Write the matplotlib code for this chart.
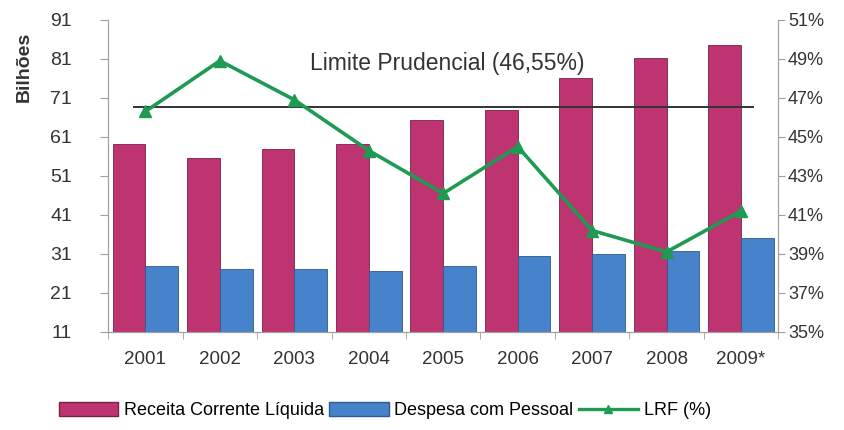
import numpy as np
import matplotlib.pyplot as plt
from matplotlib.lines import Line2D
from matplotlib.patches import Patch

plt.rcParams['font.family'] = ['Liberation Sans', 'DejaVu Sans']

# Dados (R$ bilhões e % da RCL)
anos = ['2001', '2002', '2003', '2004', '2005', '2006', '2007', '2008', '2009*']
receita = [59.2, 55.6, 57.9, 59.2, 65.4, 68.0, 76.1, 81.3, 84.6]
despesa = [27.8, 27.2, 27.2, 26.6, 27.8, 30.5, 31.0, 31.8, 35.0]
lrf = [46.3, 48.9, 46.9, 44.3, 42.1, 44.5, 40.2, 39.1, 41.2]
limite = 46.55

cor_receita = '#BE3470'
cor_despesa = '#4683CA'
cor_lrf = '#1E9A52'
cor_eixo = '#A0A0A0'

fig = plt.figure(figsize=(8.45, 4.3), dpi=100)
ax = fig.add_axes([0.128, 0.228, 0.793, 0.726])
ax2 = ax.twinx()

x = np.arange(len(anos))
w = 0.44
ax.bar(x - w / 2, receita, w, color=cor_receita, edgecolor='#7A2048', linewidth=0.6)
ax.bar(x + w / 2, despesa, w, color=cor_despesa, edgecolor='#2E5A8A', linewidth=0.6)

ax2.plot(x, lrf, color=cor_lrf, linewidth=2.6, marker='^', markersize=8, zorder=5)
ax2.hlines(limite, -0.16, 8.17, color='#333333', linewidth=1.4, zorder=4)
ax2.text(4.05, 48.75, 'Limite Prudencial (46,55%)', ha='center', va='center',
         fontsize=16.5, color='#333333')

ax.set_xlim(-0.5, len(anos) - 0.5)
ax.set_ylim(11, 91)
ax.set_yticks(np.arange(11, 92, 10))
ax2.set_ylim(35, 51)
ax2.set_yticks(np.arange(35, 52, 2))
ax2.set_yticklabels([f'{v}%' for v in range(35, 52, 2)])

ax.set_xticks(x)
ax.set_xticklabels(anos)
ax.set_xticks(np.arange(-0.5, len(anos), 1), minor=True)
ax.tick_params(axis='x', which='major', length=0, pad=14, labelsize=13.5, colors='#333333')
ax.tick_params(axis='x', which='minor', length=5, color=cor_eixo)
ax.tick_params(axis='y', length=6, color=cor_eixo, labelsize=14, labelcolor='#333333', pad=20)
ax2.tick_params(axis='y', length=5, color=cor_eixo, labelsize=13, labelcolor='#333333', pad=2)

for a in (ax, ax2):
    a.spines['top'].set_visible(False)
    for s in ('left', 'right', 'bottom'):
        a.spines[s].set_color(cor_eixo)
ax.set_ylabel('Bilhões', fontsize=14, fontweight='bold', color='#333333')
ax.yaxis.set_label_coords(-0.113, 0.85)

handles = [Patch(facecolor=cor_receita, edgecolor='#7A2048'),
           Patch(facecolor=cor_despesa, edgecolor='#2E5A8A'),
           Line2D([], [], color=cor_lrf, linewidth=2.4, marker='^', markersize=6)]
fig.legend(handles, ['Receita Corrente Líquida', 'Despesa com Pessoal', 'LRF (%)'],
           loc='center left', bbox_to_anchor=(0.05, 0.045), ncol=3, frameon=False,
           fontsize=13, handlelength=3.3, handleheight=0.8, columnspacing=0.3,
           handletextpad=0.3)

fig.savefig('out.png', dpi=100)
